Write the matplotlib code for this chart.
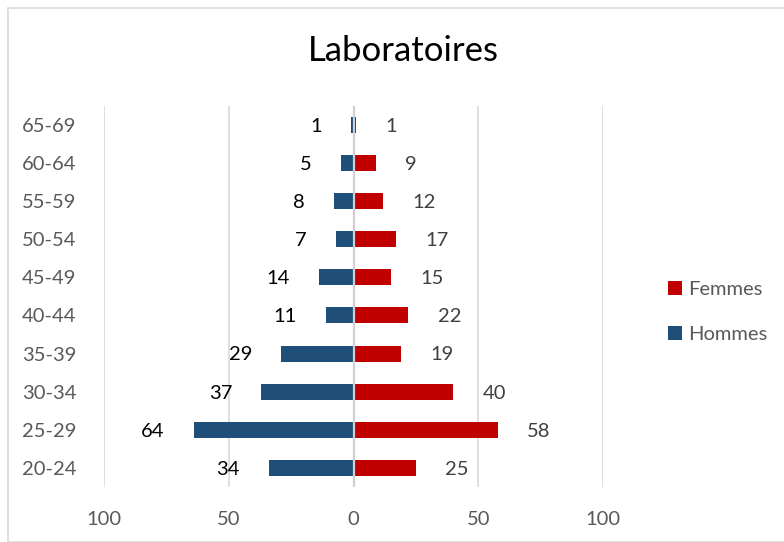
import matplotlib.pyplot as plt
from matplotlib.patches import Rectangle
import numpy as np

plt.rcParams['font.family'] = ['Lato', 'DejaVu Sans']

ages = ['20-24', '25-29', '30-34', '35-39', '40-44', '45-49',
        '50-54', '55-59', '60-64', '65-69']
hommes = [34, 64, 37, 29, 11, 14, 7, 8, 5, 1]
femmes = [25, 58, 40, 19, 22, 15, 17, 12, 9, 1]

blue = '#1F4E79'
red = '#C00000'
grey = '#595959'

fig = plt.figure(figsize=(7.84, 5.42), dpi=100)
fig.patches.append(Rectangle((8 / 784, 0), 1, 1 - 8 / 542, transform=fig.transFigure,
                             fill=False, edgecolor='#D9D9D9', linewidth=1.2))
ax = fig.add_axes([104 / 784, 0.1015, 499 / 784, 0.7035])

y = np.arange(len(ages))
hb = ax.barh(y, -np.array(hommes), height=0.42, color=blue, label='Hommes', zorder=3)
fb = ax.barh(y, femmes, height=0.42, color=red, label='Femmes', zorder=3)

for i in range(len(ages)):
    ax.annotate(str(hommes[i]), (-hommes[i], y[i]), xytext=(-21, -1),
                textcoords='offset points', ha='right', va='center',
                fontsize=14.5, color='black')
    ax.annotate(str(femmes[i]), (femmes[i], y[i]), xytext=(21, -1),
                textcoords='offset points', ha='left', va='center',
                fontsize=14.5, color='#404040')

ax.set_xlim(-100, 100)
ax.set_ylim(-0.5, 9.5)
ax.set_xticks([-100, -50, 0, 50, 100])
ax.set_xticklabels(['100', '50', '0', '50', '100'])
ax.set_yticks(y)
ax.set_yticklabels(ages)
ax.grid(axis='x', color='#D9D9D9', linewidth=1.2, zorder=0)
ax.axvline(0, color='#D0D0D0', linewidth=1.6, zorder=4)
for s in ax.spines.values():
    s.set_visible(False)
ax.tick_params(axis='both', length=0, labelsize=14.5, labelcolor=grey)
ax.tick_params(axis='x', pad=17)
ax.tick_params(axis='y', pad=20)

fig.text(0.514, 0.905, 'Laboratoires', ha='center', va='center', fontsize=25, color='black')

fig.legend(handles=[fb, hb], labels=['Femmes', 'Hommes'], loc='center left',
           bbox_to_anchor=(650 / 784, 1 - 312 / 542), frameon=False,
           fontsize=14.5, labelcolor=grey, handlelength=0.7, handleheight=0.7,
           handletextpad=0.3, labelspacing=1.4)

fig.savefig('out.png', dpi=100)
